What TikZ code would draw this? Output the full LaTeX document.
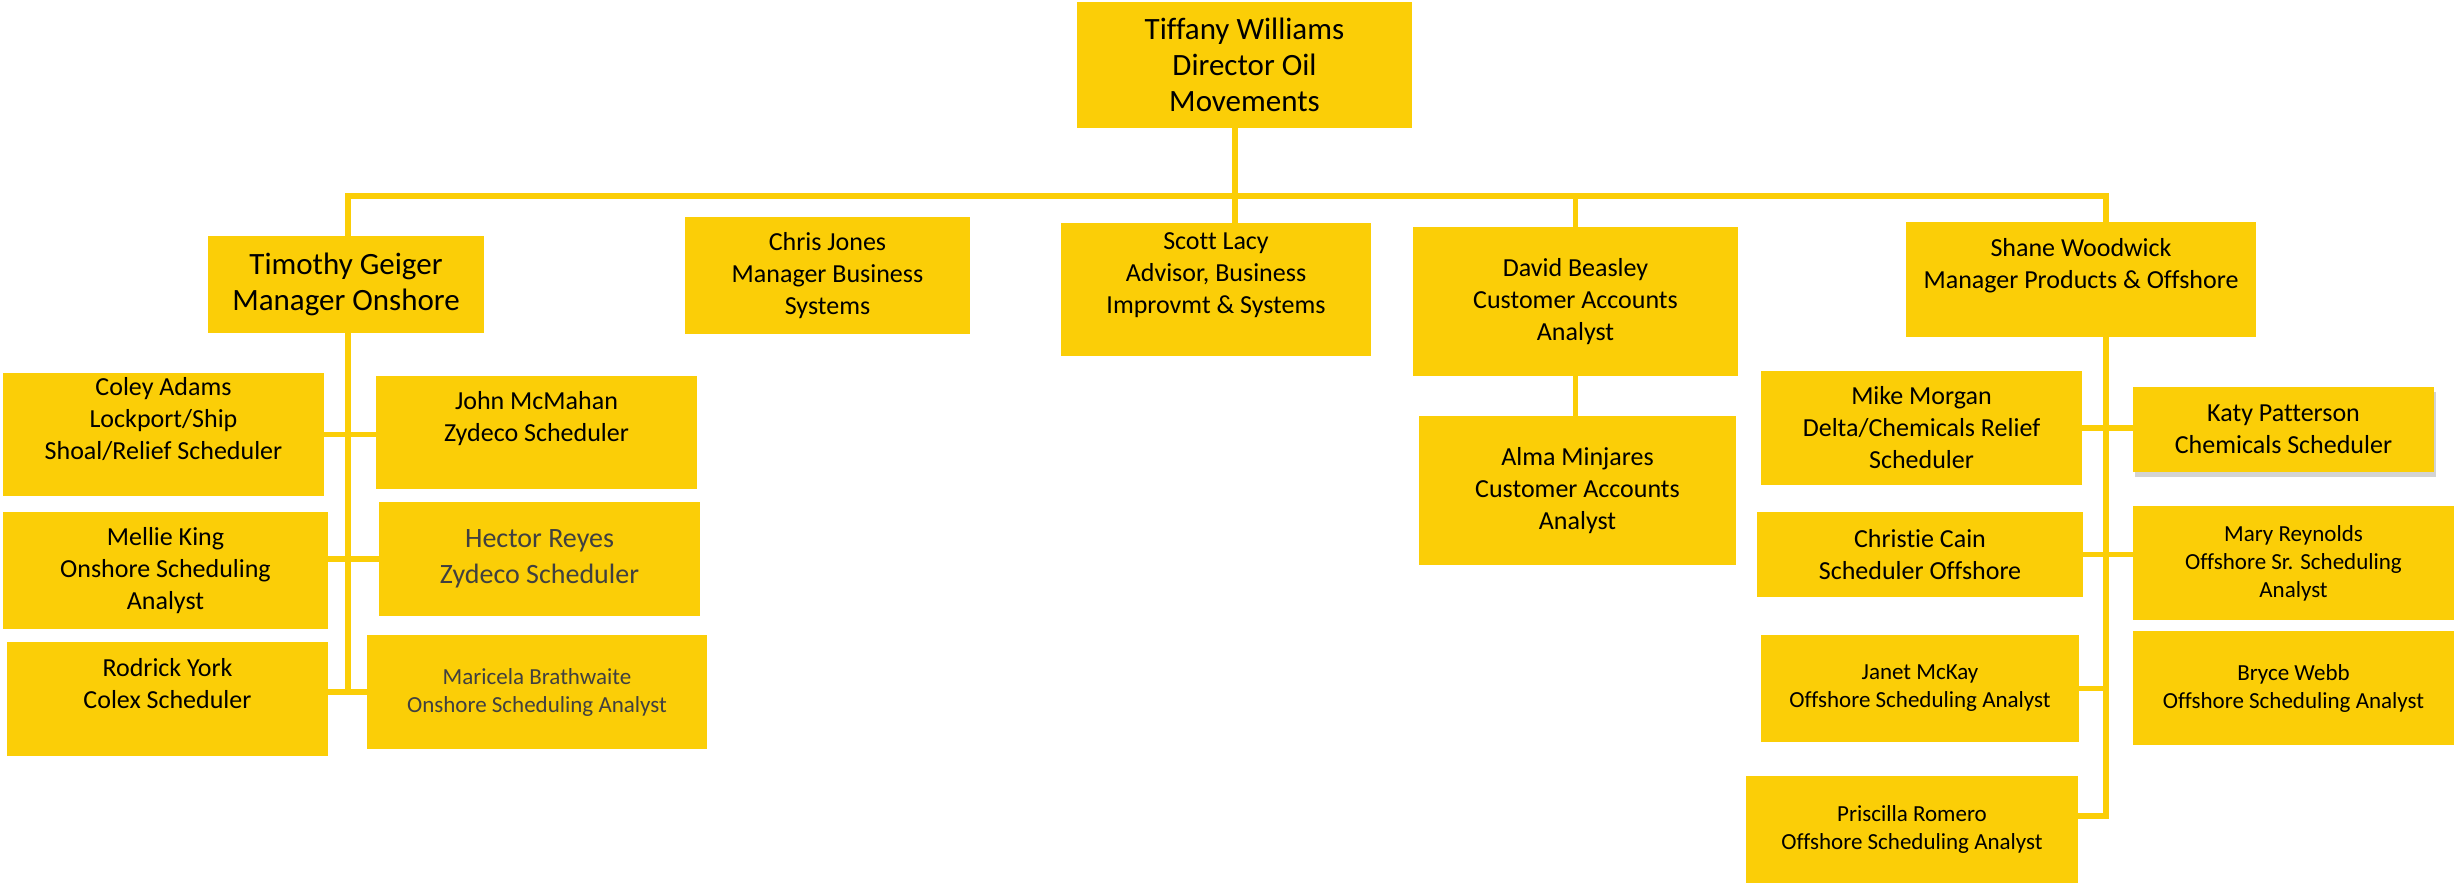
\documentclass[tikz,border=0pt]{standalone}
\usepackage{fontspec}
\setmainfont{Carlito}[Ligatures=NoCommon]
\usetikzlibrary{shadows}
\definecolor{shellyellow}{RGB}{251,206,7}
\definecolor{darkgrey}{RGB}{64,64,64}
\tikzset{
  box/.style={fill=shellyellow, inner sep=0pt, align=center, text=black},
  link/.style={draw=shellyellow, line width=5.5pt},
  big/.style={font=\fontsize{31}{36}\selectfont},
  mid/.style={font=\fontsize{26}{32}\selectfont},
  small/.style={font=\fontsize{23}{28}\selectfont},
  grey/.style={text=darkgrey},
}
\begin{document}
\begin{tikzpicture}[x=1pt,y=-1pt]
    \useasboundingbox (0,0) rectangle (2458,884);
    % top
    \node[box,big,minimum width=335,minimum height=126] (tw) at (1244.5,65) {Tiffany Williams\\Director Oil\\Movements};
    % second row
    \node[box,big,minimum width=276,minimum height=97] (tg) at (346,284.5) {Timothy Geiger\\Manager Onshore};
    \node[box,mid,minimum width=285,minimum height=117] (cj) at (827.5,275.5) {Chris Jones\\Manager Business\\Systems};
    \node[box,mid,minimum width=310,minimum height=133] (sl) at (1216,289.5) {Scott Lacy\\Advisor, Business\\Improvmt \& Systems\\\mbox{}};
    \node[box,mid,minimum width=325,minimum height=149] (db) at (1575.5,301.5) {David Beasley\\Customer Accounts\\Analyst};
    \node[box,mid,minimum width=350,minimum height=115] (sw) at (2081,279.5) {Shane Woodwick\\Manager Products \& Offshore\\\mbox{}};
    % onshore
    \node[box,mid,minimum width=321,minimum height=123] (ca) at (163.5,434.5) {Coley Adams\\Lockport/Ship\\Shoal/Relief Scheduler\\\mbox{}};
    \node[box,mid,minimum width=321,minimum height=113] (jm) at (536.5,432.5) {John McMahan\\Zydeco Scheduler\\\mbox{}};
    \node[box,mid,minimum width=325,minimum height=117] (mk) at (165.5,570.5) {Mellie King\\Onshore Scheduling\\Analyst};
    \node[box,grey,font=\fontsize{28}{36}\selectfont,minimum width=321,minimum height=114] (hr) at (539.5,559) {Hector Reyes\\Zydeco Scheduler};
    \node[box,mid,minimum width=321,minimum height=114] (ry) at (167.5,699) {Rodrick York\\Colex Scheduler\\\mbox{}};
    \node[box,small,grey,minimum width=340,minimum height=114] (mb) at (537,692) {Maricela Brathwaite\\Onshore Scheduling Analyst};
    % accounts
    \node[box,mid,minimum width=317,minimum height=149] (am) at (1577.5,490.5) {Alma Minjares\\Customer Accounts\\Analyst};
    % offshore
    \node[box,mid,minimum width=321,minimum height=114] (mm) at (1921.5,428) {Mike Morgan\\Delta/Chemicals Relief\\Scheduler};
    \node[box,mid,minimum width=301,minimum height=85,drop shadow={shadow xshift=2pt,shadow yshift=-5pt,opacity=0.35}] (kp) at (2283.5,429.5) {Katy Patterson\\Chemicals Scheduler};
    \node[box,mid,minimum width=326,minimum height=85] (cc) at (1920,554.5) {Christie Cain\\Scheduler Offshore};
    \node[box,small,minimum width=321,minimum height=114] (mr) at (2293.5,563) {Mary Reynolds\\Offshore Sr. Scheduling\\Analyst};
    \node[box,small,minimum width=318,minimum height=107] (jk) at (1920,688.5) {Janet McKay\\Offshore Scheduling Analyst};
    \node[box,small,minimum width=321,minimum height=114] (bw) at (2293.5,688) {Bryce Webb\\Offshore Scheduling Analyst};
    \node[box,small,minimum width=332,minimum height=107] (pr) at (1912,829.5) {Priscilla Romero\\Offshore Scheduling Analyst};
    % lines
    \coordinate (busL) at (348,196);
    \coordinate (busR) at (2106,196);
    \coordinate (tj) at (1235,196);
    \coordinate (prJ) at (2106,816);
    \draw[link] (tg.north -| busL) -- (busL) -- (busR) -- (sw.north -| busR);
    \draw[link] (tw.south -| tj) -- (sl.north -| tj);
    \draw[link] (db.north) -- (db.north |- busL);
    \draw[link] (db.south) -- (am.north -| db.south);
    \draw[link] (tg.south -| busL) -- (busL |- mb.west);
    \draw[link] (ca.east) -- (jm.west |- ca.east);
    \draw[link] (mk.east |- hr.west) -- (hr.west);
    \draw[link] (ry.east |- mb.west) -- (mb.west);
    \draw[link,line cap=rect] (sw.south -| busR) -- (prJ);
    \draw[link] (mm.east) -- (kp.west |- mm.east);
    \draw[link] (cc.east) -- (mr.west |- cc.east);
    \draw[link] (jk.east) -- (jk.east -| busR);
    \draw[link] (pr.east |- prJ) -- (prJ);
\end{tikzpicture}
\end{document}
